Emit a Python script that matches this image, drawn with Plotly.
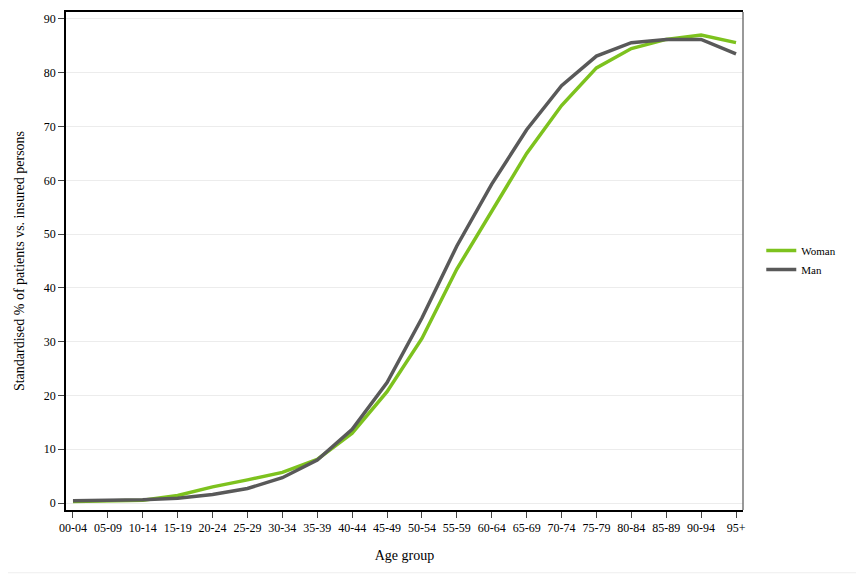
import plotly.graph_objects as go

age_groups = ["00-04", "05-09", "10-14", "15-19", "20-24", "25-29", "30-34", "35-39",
              "40-44", "45-49", "50-54", "55-59", "60-64", "65-69", "70-74", "75-79",
              "80-84", "85-89", "90-94", "95+"]
woman = [0.3, 0.4, 0.5, 1.4, 3.0, 4.3, 5.7, 8.1, 13.0, 20.7, 30.6, 43.5, 54.3, 65.0,
         73.9, 80.9, 84.5, 86.2, 87.0, 85.6]
man = [0.4, 0.5, 0.6, 0.9, 1.6, 2.7, 4.7, 8.0, 13.7, 22.4, 34.4, 47.8, 59.3, 69.4,
       77.6, 83.1, 85.6, 86.2, 86.2, 83.5]

font_family = "Liberation Serif"

fig = go.Figure()
fig.add_trace(go.Scatter(x=list(range(len(age_groups))), y=woman, mode="lines", name="Woman",
                         line=dict(color="#7dc21e", width=3.5)))
fig.add_trace(go.Scatter(x=list(range(len(age_groups))), y=man, mode="lines", name="Man",
                         line=dict(color="#595959", width=3.5)))

fig.update_layout(
    width=864, height=576,
    margin=dict(l=58, r=129, t=2, b=74),
    paper_bgcolor="white", plot_bgcolor="white",
    font=dict(family=font_family, size=12, color="black"),
    showlegend=True,
    legend=dict(x=1.027, y=0.502, xanchor="left", yanchor="middle",
                font=dict(family=font_family, size=11, color="black"),
                bgcolor="rgba(0,0,0,0)", tracegroupgap=0),
    xaxis=dict(
        tickmode="array", tickvals=list(range(len(age_groups))), ticktext=age_groups,
        range=[-0.2, 19.2], showgrid=False, zeroline=False,
        showline=True, linecolor="black", linewidth=1.5, mirror=True,
        ticks="outside", ticklen=6, tickcolor="#444", tickwidth=1,
        tickfont=dict(family=font_family, size=12, color="black"),
        title=dict(text="Age group", font=dict(family=font_family, size=14), standoff=16),
    ),
    yaxis=dict(
        range=[-1.3, 91.3], tickvals=[0, 10, 20, 30, 40, 50, 60, 70, 80, 90],
        showgrid=True, gridcolor="#ececec", gridwidth=1, zeroline=False,
        showline=True, linecolor="black", linewidth=1.5,
        ticks="outside", ticklen=6, tickcolor="#444", tickwidth=1,
        tickfont=dict(family=font_family, size=12, color="black"),
        title=dict(text="Standardised % of patients vs. insured persons",
                   font=dict(family=font_family, size=14), standoff=16),
    ),
    shapes=[
        dict(type="line", xref="paper", yref="paper", x0=1, x1=1, y0=0, y1=1,
             line=dict(color="#777777", width=1.5)),
        dict(type="line", xref="paper", yref="paper", x0=1.1745, x1=1.1745, y0=-0.126, y1=1.02,
             line=dict(color="#eeeeee", width=1)),
        dict(type="line", xref="paper", yref="paper", x0=-0.1, x1=1.1745, y0=-0.126, y1=-0.126,
             line=dict(color="#eeeeee", width=1)),
    ],
)

fig.write_html("out.html")
